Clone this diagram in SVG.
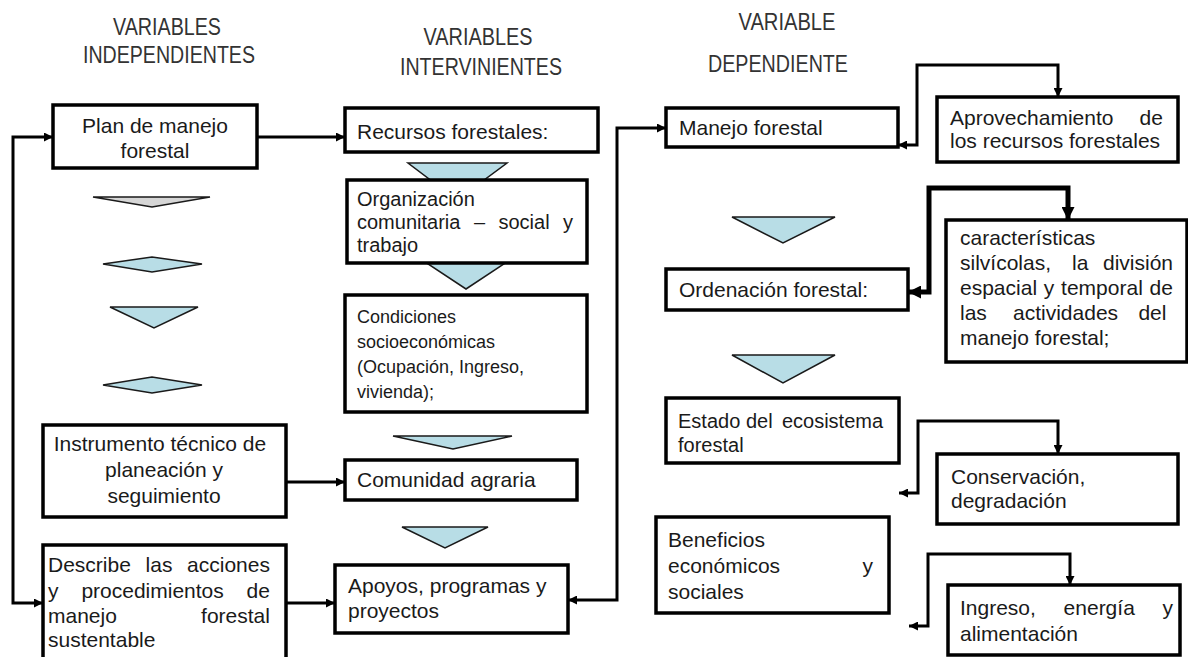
<svg xmlns="http://www.w3.org/2000/svg" width="1188" height="657" viewBox="0 0 1188 657">
<style>
.box{fill:#fff;stroke:#000;stroke-width:3.5}
.t{font-family:"Liberation Sans",Arial,sans-serif;font-size:21px;fill:#1a1a1a}
.s20{font-size:20px}
.s18{font-size:18px}
.h{font-family:"Liberation Sans",Arial,sans-serif;font-size:23px;fill:#333;text-anchor:middle}
.c{text-anchor:middle}
.e{text-anchor:end}
.con{fill:none;stroke:#000;stroke-width:3;stroke-linejoin:miter}
.thick{stroke-width:5}
.tri{fill:#b8dde6;stroke:#1a1a1a;stroke-width:1.5;stroke-linejoin:miter}
.grey{fill:#d6d6d6}
</style>
<defs>
<marker id="ah" viewBox="0 0 10 10" refX="10" refY="5" markerWidth="9" markerHeight="9" markerUnits="userSpaceOnUse" orient="auto-start-reverse">
<path d="M0,0 L10,5 L0,10 z" fill="#000"/>
</marker>
<marker id="ahb" viewBox="0 0 10 10" refX="10" refY="5" markerWidth="13" markerHeight="13" markerUnits="userSpaceOnUse" orient="auto-start-reverse">
<path d="M0,0 L10,5 L0,10 z" fill="#000"/>
</marker>
</defs>
<rect width="1188" height="657" fill="#fff"/>

<g id="headings">
<text class="h" x="167" y="35" textLength="108" lengthAdjust="spacingAndGlyphs">VARIABLES</text>
<text class="h" x="169" y="63" textLength="172" lengthAdjust="spacingAndGlyphs">INDEPENDIENTES</text>
<text class="h" x="478" y="45" textLength="109" lengthAdjust="spacingAndGlyphs">VARIABLES</text>
<text class="h" x="481" y="75" textLength="162" lengthAdjust="spacingAndGlyphs">INTERVINIENTES</text>
<text class="h" x="787" y="30" textLength="97" lengthAdjust="spacingAndGlyphs">VARIABLE</text>
<text class="h" x="778" y="72" textLength="140" lengthAdjust="spacingAndGlyphs">DEPENDIENTE</text>
</g>

<g id="flow-shapes">
<polygon class="tri grey" points="93,197 210,197 152,207"/>
<polygon class="tri" points="103,264 152,257 202,264 152,272"/>
<polygon class="tri" points="110,307 198,307 154,328"/>
<polygon class="tri" points="103,385 152,377 202,385 152,393"/>
<polygon class="tri" points="408,163 507,163 457,200"/>
<polygon class="tri" points="410,252 522,252 466,289"/>
<polygon class="tri" points="393,436 512,436 453,449"/>
<polygon class="tri" points="402,527 488,527 445,548"/>
<polygon class="tri" points="732,217 835,217 783,243"/>
<polygon class="tri" points="732,355 835,355 783,383"/>
</g>

<g id="connectors">
<path class="con" d="M53,137 H13 V603 H43" marker-start="url(#ah)" marker-end="url(#ah)"/>
<path class="con" d="M257,137 H345" marker-end="url(#ah)"/>
<path class="con" d="M286,482 H345" marker-end="url(#ah)"/>
<path class="con" d="M286,603 H335" marker-end="url(#ah)"/>
<path class="con" d="M568,600 H617 V128 H666" marker-start="url(#ah)" marker-end="url(#ah)"/>
<path class="con" d="M898,145 H917 V65 H1058 V97" marker-start="url(#ah)" marker-end="url(#ah)"/>
<path class="con thick" d="M908,292 H929 V188 H1068 V220" marker-start="url(#ahb)" marker-end="url(#ahb)"/>
<path class="con" d="M899,493 H918 V421 H1058 V454" marker-start="url(#ah)" marker-end="url(#ah)"/>
<path class="con" d="M909,626 H928 V554 H1070 V585" marker-start="url(#ah)" marker-end="url(#ah)"/>
</g>

<g id="plan">
<rect class="box" x="53" y="105" width="204" height="63"/>
<text class="t c" x="155" y="133">Plan de manejo</text>
<text class="t c" x="155" y="158">forestal</text>
</g>

<g id="instrumento">
<rect class="box" x="43" y="425" width="243" height="92"/>
<text class="t c" x="160" y="451">Instrumento  técnico de</text>
<text class="t c" x="164" y="477">planeación y</text>
<text class="t c" x="164" y="503">seguimiento</text>
</g>

<g id="describe">
<rect class="box" x="43" y="545" width="243" height="125"/>
<text class="t" y="572"><tspan x="48">Describe</tspan><tspan x="145.6">las</tspan><tspan x="187.1">acciones</tspan></text>
<text class="t" y="598"><tspan x="48">y</tspan><tspan x="81.4">procedimientos</tspan><tspan x="246.6">de</tspan></text>
<text class="t" y="623"><tspan x="48">manejo</tspan><tspan x="201.1">forestal</tspan></text>
<text class="t" x="48" y="647">sustentable</text>
</g>

<g id="recursos">
<rect class="box" x="345" y="108" width="253" height="44"/>
<text class="t" x="357" y="139">Recursos forestales:</text>
</g>

<g id="organizacion">
<rect class="box" x="347" y="180" width="240" height="83"/>
<text class="t s20" x="357" y="206">Organización</text>
<text class="t s20" y="229"><tspan x="357">comunitaria</tspan><tspan x="473.9">–</tspan><tspan x="498.5">social</tspan><tspan x="563">y</tspan></text>
<text class="t s20" x="357" y="252">trabajo</text>
</g>

<g id="condiciones">
<rect class="box" x="345" y="295" width="242" height="117"/>
<text class="t s18" x="357" y="323">Condiciones</text>
<text class="t s18" x="357" y="348">socioeconómicas</text>
<text class="t s18" x="357" y="373">(Ocupación, Ingreso,</text>
<text class="t s18" x="357" y="398">vivienda);</text>
</g>

<g id="comunidad">
<rect class="box" x="345" y="460" width="232" height="40"/>
<text class="t" x="357" y="487">Comunidad agraria</text>
</g>

<g id="apoyos">
<rect class="box" x="335" y="565" width="233" height="68"/>
<text class="t" x="348" y="593">Apoyos, programas y</text>
<text class="t" x="348" y="618">proyectos</text>
</g>

<g id="manejo">
<rect class="box" x="666" y="108" width="232" height="39"/>
<text class="t" x="679" y="135">Manejo forestal</text>
</g>

<g id="aprovechamiento">
<rect class="box" x="937" y="97" width="241" height="65"/>
<text class="t" y="125"><tspan x="950">Aprovechamiento</tspan><tspan x="1139.6">de</tspan></text>
<text class="t" x="950" y="148">los recursos forestales</text>
</g>

<g id="ordenacion">
<rect class="box" x="666" y="269" width="242" height="41"/>
<text class="t" x="679" y="297">Ordenación forestal:</text>
</g>

<g id="caracteristicas">
<rect class="box" x="946" y="220" width="241" height="142"/>
<text class="t" x="960" y="245">características</text>
<text class="t" y="270"><tspan x="960">silvícolas,</tspan><tspan x="1072">la</tspan><tspan x="1103">división</tspan></text>
<text class="t" y="295"><tspan x="960">espacial</tspan><tspan x="1043.8">y</tspan><tspan x="1061.1">temporal</tspan><tspan x="1149.6">de</tspan></text>
<text class="t" y="320"><tspan x="960">las</tspan><tspan x="1013">actividades</tspan><tspan x="1138.4">del</tspan></text>
<text class="t" x="960" y="345">manejo forestal;</text>
</g>

<g id="estado">
<rect class="box" x="666" y="398" width="233" height="65"/>
<text class="t s20" y="428"><tspan x="678">Estado</tspan><tspan x="745.9">del</tspan><tspan x="781.9">ecosistema</tspan></text>
<text class="t s20" x="678" y="452">forestal</text>
</g>

<g id="conservacion">
<rect class="box" x="937" y="454" width="241" height="70"/>
<text class="t" x="951" y="484">Conservación,</text>
<text class="t" x="951" y="508">degradación</text>
</g>

<g id="beneficios">
<rect class="box" x="656" y="517" width="233" height="96"/>
<text class="t" x="668" y="547">Beneficios</text>
<text class="t" y="573"><tspan x="668">económicos</tspan><tspan x="862.5">y</tspan></text>
<text class="t" x="668" y="599">sociales</text>
</g>

<g id="ingreso">
<rect class="box" x="948" y="585" width="232" height="70"/>
<text class="t" y="615"><tspan x="960">Ingreso,</tspan><tspan x="1063.6">energía</tspan><tspan x="1162.5">y</tspan></text>
<text class="t" x="960" y="641">alimentación</text>
</g>
</svg>
